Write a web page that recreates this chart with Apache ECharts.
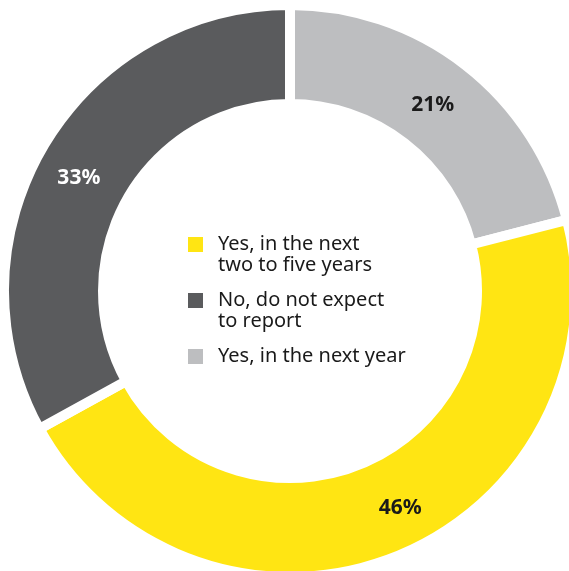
<!DOCTYPE html>
<html>
<head>
<meta charset="utf-8">
<title>Reporting expectations</title>
<script src="https://cdn.jsdelivr.net/npm/echarts@6/dist/echarts.min.js"></script>
<style>
  html, body { margin: 0; padding: 0; background: #ffffff; }
  #chart { width: 569px; height: 571px; }
</style>
</head>
<body>
<div id="chart"></div>
<script>
// Survey answers, in clockwise order from twelve o'clock
const categories = [
  'Yes, in the next year',
  'Yes, in the next two to five years',
  'No, do not expect to report'
];
const shares = [21, 46, 33];

// Order the answers are listed in the key
const legendOrder = [1, 2, 0];

// Key text, broken over lines
const legendText = {
  'Yes, in the next year': ['Yes, in the next year'],
  'Yes, in the next two to five years': ['Yes, in the next', 'two to five years'],
  'No, do not expect to report': ['No, do not expect', 'to report']
};

// Ring styling
const sliceColors = ['#bdbec0', '#ffe513', '#5a5b5d'];
const labelColors = ['#1a1a1a', '#1a1a1a', '#ffffff'];
// Small shifts of each percentage from the middle of its band
const labelNudge = [[-4, 3], [22, -6], [-5, 9]];

const FONT = '"Noto Sans", "Liberation Sans", sans-serif';

const chart = echarts.init(document.getElementById('chart'), null, { renderer: 'canvas' });

const pieData = categories.map((name, i) => ({
  name: name,
  value: shares[i],
  itemStyle: { color: sliceColors[i] },
  label: { color: labelColors[i] }
}));

// The key centres its text on the swatch; framing every entry as three
// lines keeps the swatch beside the first line of text.
const keyText = (name) => {
  const lines = legendText[name].slice();
  while (lines.length < 2) lines.push('');
  return ['', ...lines].join('\n');
};

chart.setOption({
  animation: false,
  backgroundColor: '#ffffff',
  legend: {
    orient: 'vertical',
    left: 188,
    top: 213,
    padding: 0,
    itemGap: -7,
    itemWidth: 15,
    itemHeight: 15,
    icon: 'rect',
    selectedMode: false,
    itemStyle: { borderWidth: 0 },
    textStyle: {
      fontFamily: FONT,
      fontSize: 20,
      lineHeight: 21,
      color: '#1a1a1a',
      padding: [0, 0, 0, 10],
      backgroundColor: 'rgba(0,0,0,0)'
    },
    data: legendOrder.map(i => categories[i]),
    formatter: keyText
  },
  series: [{
    type: 'pie',
    center: [290, 291],
    radius: [187, 286],
    startAngle: 90,
    clockwise: true,
    avoidLabelOverlap: false,
    silent: true,
    itemStyle: {
      borderColor: '#ffffff',
      borderWidth: 10
    },
    label: {
      show: true,
      position: 'inside',
      formatter: '{c}%',
      fontFamily: FONT,
      fontSize: 21,
      fontWeight: 'bold'
    },
    labelLine: { show: false },
    labelLayout: (params) => ({
      dx: labelNudge[params.dataIndex][0],
      dy: labelNudge[params.dataIndex][1]
    }),
    data: pieData
  }]
});
</script>
</body>
</html>
